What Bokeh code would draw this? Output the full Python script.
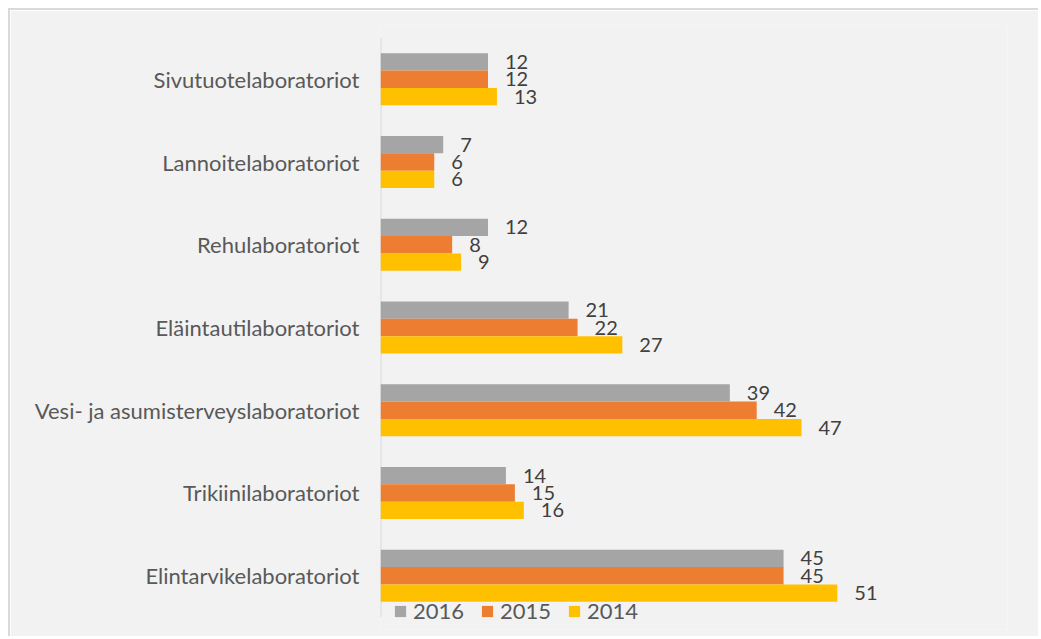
from bokeh.plotting import figure
from bokeh.models import ColumnDataSource, Range1d, FactorRange, Legend, LegendItem
from bokeh.transform import dodge
from bokeh.core.properties import value
from bokeh.embed import file_html
from bokeh.resources import INLINE

categories = ["Sivutuotelaboratoriot", "Lannoitelaboratoriot", "Rehulaboratoriot",
              "Eläintautilaboratoriot", "Vesi- ja asumisterveyslaboratoriot",
              "Trikiinilaboratoriot", "Elintarvikelaboratoriot"]
series = ["2016", "2015", "2014"]
v2016 = [12, 7, 12, 21, 39, 14, 45]
v2015 = [12, 6, 8, 22, 42, 15, 45]
v2014 = [13, 6, 9, 27, 47, 16, 51]
colors = ["#A5A5A5", "#ED7D31", "#FFC000"]

FONT = "Lato"
BG = "#F2F2F2"

src = ColumnDataSource(dict(
    cat=categories, v2016=v2016, v2015=v2015, v2014=v2014,
    t2016=[str(v) for v in v2016], t2015=[str(v) for v in v2015], t2014=[str(v) for v in v2014],
))

y_range = FactorRange(factors=list(reversed(categories)), range_padding=0.15,
                      range_padding_units="absolute")

p = figure(width=1030, height=628, y_range=y_range, x_range=Range1d(0, 70),
           output_backend="svg", toolbar_location=None,
           min_border_left=370, min_border_right=33, min_border_top=15, min_border_bottom=9)
p.styles = {"margin-top": "8px", "margin-left": "8px",
            "border-top": "2px solid #D9D9D9", "border-left": "2px solid #D9D9D9"}
p.background_fill_color = BG
p.border_fill_color = BG
p.outline_line_color = None
p.xgrid.visible = False
p.ygrid.visible = False
p.xaxis.visible = False

ya = p.yaxis[0]
ya.axis_line_color = None
ya.major_tick_line_color = None
ya.minor_tick_line_color = None
ya.major_label_text_font = FONT
ya.major_label_text_font_size = "22px"
ya.major_label_text_color = "#595959"
ya.major_label_standoff = 15

# category axis line spanning the category bands only
axis_src = ColumnDataSource(dict(x=[0], lo=[categories[-1]], hi=[categories[0]]))
p.segment(x0="x", x1="x", y0=dodge("lo", -0.5, range=p.y_range),
          y1=dodge("hi", 0.5, range=p.y_range), source=axis_src,
          line_color="#D9D9D9", line_width=2)

h = 0.21
offsets = [h, 0.0, -h]
renderers = []
for name, col, off in zip(series, colors, offsets):
    r = p.hbar(y=dodge("cat", off, range=p.y_range), right="v" + name, left=0, height=h,
               source=src, fill_color=col, line_color=None)
    renderers.append(r)
    p.text(x="v" + name, y=dodge("cat", off, range=p.y_range), text="t" + name, source=src,
           x_offset=17, text_align="left", text_baseline="middle",
           text_font=value(FONT), text_font_size="20px", text_color="#404040")

legend = Legend(items=[LegendItem(label=s, renderers=[r]) for s, r in zip(series, renderers)],
                orientation="horizontal", location=(13, 5))
legend.background_fill_alpha = 0
legend.border_line_alpha = 0
legend.padding = 0
legend.margin = 0
legend.spacing = 16
legend.glyph_width = 14
legend.glyph_height = 14
legend.label_standoff = 6
legend.label_text_font = FONT
legend.label_text_font_size = "22px"
legend.label_text_color = "#595959"
p.add_layout(legend, "center")

open("out.html", "w").write(file_html(p, INLINE))
